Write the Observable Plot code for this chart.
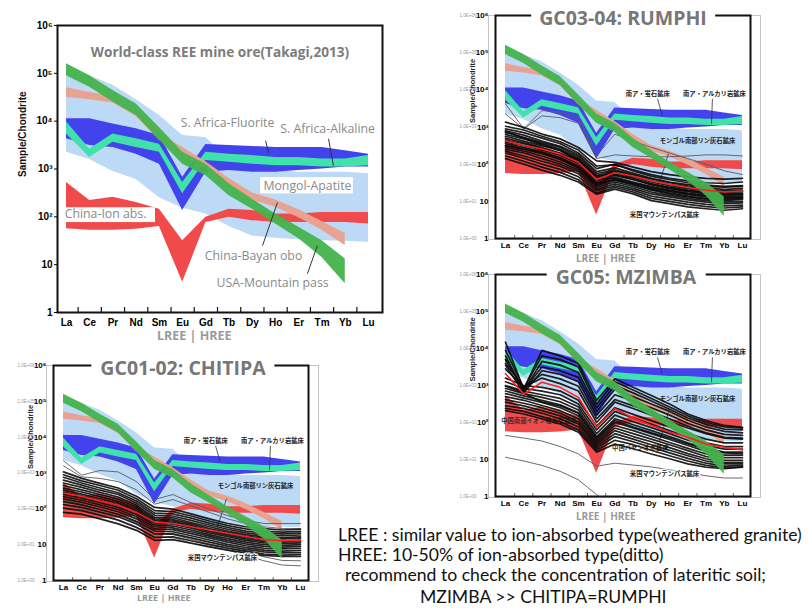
<!DOCTYPE html>
<html><head><meta charset="utf-8">
<script src="https://cdn.jsdelivr.net/npm/d3@7"></script>
<script src="https://cdn.jsdelivr.net/npm/@observablehq/plot@0.6"></script>
<style>
body{margin:0;background:#fff;width:810px;height:608px;overflow:hidden;position:relative;font-family:"Open Sans",sans-serif}
.p{position:absolute}
.title{position:absolute;background:#fff;color:#777;font-weight:700;font-size:19.5px;line-height:20px;white-space:nowrap;transform:translateX(-50%);font-family:"Open Sans";z-index:2;text-align:center}
.note{position:absolute;font-family:Lato;font-size:17.6px;line-height:20px;color:#111;white-space:nowrap}
</style></head><body>
<script>
// ---------- data ----------
const elements = ["La","Ce","Pr","Nd","Sm","Eu","Gd","Tb","Dy","Ho","Er","Tm","Yb","Lu"];
const yTicks = [1, 10, 100, 1e3, 1e4, 1e5, 1e6];

// reference ore bands (log10 of sample/chondrite), Takagi 2013
const mongolLo   = [3.35,3.20,2.95,2.78,2.40,2.18,2.06,1.80,1.60,1.55,1.52,1.50,1.49,1.47];
const mongolHi   = [5.10,4.95,4.75,4.45,4.12,3.70,3.66,3.20,3.00,2.97,2.93,2.93,2.93,2.90];
const ionLo      = [1.75,1.72,1.72,1.74,1.80,0.63,1.88,1.99,1.92,1.88,1.88,1.88,1.88,1.85];
const ionHi      = [2.72,2.34,2.41,2.30,2.16,1.50,1.99,2.16,2.13,2.06,2.06,2.09,2.09,2.09];
const fluoriteLo = [3.63,3.49,3.45,3.31,3.10,2.13,2.93,2.97,2.93,2.93,2.97,3.00,3.04,3.04];
const fluoriteHi = [4.05,4.05,3.94,3.84,3.70,2.83,3.51,3.49,3.47,3.45,3.45,3.45,3.38,3.31];
const alkalineLo = [3.73,3.24,3.56,3.45,3.35,2.48,3.18,3.14,3.10,3.07,3.07,3.04,3.04,3.07];
const alkalineHi = [3.98,3.42,3.73,3.63,3.52,2.72,3.35,3.31,3.28,3.24,3.24,3.21,3.21,3.28];
const bayanLo    = [4.50,4.45,4.38,4.10,3.60,3.30,3.00,2.65,2.35,2.20,1.98,1.72,1.40];
const bayanHi    = [4.70,4.60,4.52,4.25,3.75,3.45,3.15,2.80,2.50,2.35,2.15,1.90,1.65];
const mtnPassLo  = [4.95,4.71,4.40,4.12,3.60,3.10,2.86,2.44,2.16,1.85,1.54,1.15,0.60];
const mtnPassHi  = [5.20,4.95,4.64,4.36,3.87,3.35,3.10,2.69,2.37,2.06,1.78,1.50,1.12];

// GC03-04 RUMPHI samples (log10)
const rumphiGray = [
 [3.62,2.95,3.44,3.40,3.26,2.23,2.81,2.62,2.45,2.30,2.15,2.00,1.82,1.72],
 [3.35,2.95,3.30,3.25,3.10,2.15,2.25,2.22,2.20,2.20,2.22,2.25,2.25,2.22]
];
const rumphiSamples = [
 [3.13,2.99,2.81,2.68,2.45,2.09,2.05,1.92,1.80,1.72,1.66,1.62,1.60,1.62],
 [3.02,2.92,2.75,2.60,2.38,1.95,1.98,1.85,1.72,1.62,1.55,1.50,1.48,1.52],
 [2.95,2.85,2.70,2.55,2.30,1.88,2.00,1.82,1.68,1.58,1.50,1.44,1.40,1.42],
 [2.90,2.78,2.62,2.48,2.25,1.80,1.90,1.76,1.62,1.52,1.45,1.40,1.38,1.40],
 [2.85,2.72,2.58,2.45,2.20,1.75,1.85,1.72,1.60,1.50,1.42,1.36,1.32,1.35],
 [2.80,2.68,2.55,2.40,2.16,1.70,1.82,1.70,1.56,1.46,1.38,1.32,1.28,1.30],
 [2.75,2.62,2.50,2.36,2.12,1.66,1.78,1.66,1.52,1.42,1.34,1.28,1.24,1.26],
 [2.70,2.58,2.45,2.30,2.08,1.62,1.74,1.62,1.48,1.38,1.30,1.24,1.20,1.22],
 [2.65,2.55,2.42,2.28,2.05,1.60,1.62,1.50,1.38,1.28,1.20,1.15,1.10,1.12],
 [2.60,2.50,2.38,2.24,2.02,1.55,1.70,1.58,1.44,1.34,1.26,1.20,1.16,1.18],
 [2.55,2.45,2.33,2.18,1.96,1.50,1.65,1.52,1.40,1.30,1.22,1.16,1.12,1.15],
 [2.50,2.42,2.30,2.15,1.92,1.48,1.58,1.46,1.32,1.22,1.14,1.08,1.04,1.08],
 [2.50,2.40,2.28,2.12,1.90,1.45,1.60,1.48,1.35,1.26,1.18,1.12,1.08,1.10],
 [2.45,2.35,2.22,2.06,1.85,1.42,1.56,1.44,1.30,1.20,1.12,1.06,1.02,1.05],
 [2.40,2.30,2.15,2.00,1.80,1.38,1.52,1.40,1.25,1.16,1.08,1.02,0.98,1.00],
 [2.35,2.22,2.08,1.94,1.74,1.33,1.47,1.35,1.20,1.12,1.04,0.98,0.94,0.96],
 [2.30,2.16,2.00,1.86,1.66,1.28,1.42,1.30,1.14,1.06,0.98,0.92,0.88,0.90],
 [2.22,2.08,1.92,1.78,1.58,1.22,1.38,1.25,1.08,1.00,0.92,0.86,0.82,0.85],
 [2.15,2.00,1.84,1.70,1.52,1.19,1.33,1.20,1.02,0.94,0.85,0.80,0.76,0.80],
 [2.88,2.70,2.52,2.38,2.10,1.68,1.72,1.60,1.46,1.36,1.28,1.22,1.18,1.20]
];
const rumphiRed = [2.63,2.50,2.41,2.27,2.05,1.59,1.77,1.68,1.55,1.46,1.37,1.30,1.25,1.28];

// GC05 MZIMBA samples (log10)
const mzimbaGray = [
 [1.65,1.58,1.50,1.35,1.15,0.82,0.90,0.85,0.80,0.72,0.65,0.56,0.50,0.50],
 [1.06,0.96,0.84,0.68,0.45,0.05,-0.40,-0.60,-0.80,-1.00,-1.00,-1.00,-1.00,-1.00]
];
const mzimbaSamples = [
 [4.17,2.90,3.95,3.80,3.60,2.60,3.18,2.95,2.73,2.50,2.23,2.05,1.92,1.87],
 [3.95,2.92,3.80,3.70,3.50,2.50,3.10,2.88,2.65,2.42,2.18,2.00,1.88,1.85],
 [3.80,2.85,3.65,3.55,3.35,2.40,3.00,2.80,2.58,2.36,2.12,1.95,1.82,1.80],
 [3.70,2.88,3.50,3.40,3.22,2.30,2.90,2.70,2.50,2.30,2.06,1.88,1.76,1.72],
 [3.60,2.95,3.20,3.05,2.85,2.00,2.55,2.38,2.20,2.02,1.85,1.70,1.58,1.55],
 [3.55,2.80,3.40,3.30,3.10,2.20,2.75,2.58,2.40,2.20,1.98,1.80,1.68,1.65],
 [3.45,2.95,3.30,3.18,2.98,2.10,2.62,2.45,2.28,2.10,1.90,1.72,1.60,1.58],
 [3.20,3.00,2.95,2.85,2.60,1.90,2.40,2.22,2.05,1.88,1.70,1.55,1.45,1.45],
 [3.10,2.92,2.85,2.75,2.50,1.80,2.30,2.12,1.95,1.78,1.60,1.45,1.35,1.35],
 [3.00,2.85,2.75,2.65,2.42,1.70,2.20,2.02,1.86,1.70,1.52,1.38,1.28,1.28],
 [2.98,2.80,2.55,2.45,2.25,1.58,2.05,1.88,1.72,1.58,1.42,1.28,1.18,1.16],
 [2.92,2.78,2.68,2.56,2.34,1.62,2.10,1.94,1.78,1.62,1.45,1.30,1.20,1.20],
 [2.85,2.72,2.60,2.48,2.26,1.55,2.00,1.85,1.70,1.54,1.38,1.22,1.12,1.12],
 [2.78,2.66,2.54,2.40,2.18,1.50,1.92,1.78,1.62,1.46,1.30,1.15,1.05,1.05],
 [2.70,2.60,2.46,2.32,2.10,1.45,1.85,1.70,1.55,1.40,1.24,1.08,0.98,0.98],
 [2.62,2.52,2.40,2.25,2.02,1.40,1.78,1.62,1.48,1.32,1.16,1.02,0.92,0.92],
 [2.55,2.45,2.32,2.18,1.96,1.35,1.70,1.55,1.40,1.25,1.10,0.96,0.88,0.88],
 [2.45,2.38,2.25,2.10,1.88,1.30,1.62,1.48,1.33,1.18,1.03,0.90,0.82,0.84],
 [2.38,2.30,2.16,2.02,1.80,1.25,1.52,1.40,1.25,1.10,0.96,0.84,0.78,0.80],
 [2.32,2.23,2.10,1.96,1.74,1.20,1.42,1.29,1.15,1.02,0.88,0.79,0.75,0.79]
];
const mzimbaRed = [3.32,2.77,3.09,2.95,2.68,1.87,2.37,2.12,1.92,1.74,1.60,1.42,1.33,1.26];

// GC01-02 CHITIPA samples (log10)
const chitipaGray = [
 [3.34,2.94,3.07,3.03,2.76,2.26,2.40,2.17,1.99,1.81,1.68,1.59,1.59,1.59],
 [3.20,2.89,2.85,2.76,2.53,2.13,2.26,2.08,1.90,1.72,1.59,1.50,1.45,1.45],
 [2.10,2.00,1.85,1.70,1.50,1.22,1.20,1.05,0.95,0.85,0.70,0.55,0.43,0.41],
 [2.25,2.12,1.98,1.82,1.62,1.30,1.28,1.15,1.02,0.92,0.80,0.66,0.56,0.55]
];
const chitipaSamples = [
 [3.03,2.85,2.71,2.58,2.35,2.04,1.99,1.86,1.72,1.59,1.50,1.45,1.41,1.43],
 [2.95,2.78,2.65,2.52,2.28,1.95,1.92,1.80,1.66,1.53,1.44,1.38,1.35,1.37],
 [2.88,2.72,2.58,2.45,2.22,1.88,1.86,1.74,1.60,1.48,1.38,1.32,1.30,1.32],
 [2.80,2.66,2.52,2.40,2.16,1.82,1.80,1.68,1.55,1.43,1.33,1.27,1.25,1.27],
 [2.72,2.60,2.46,2.33,2.10,1.76,1.75,1.62,1.50,1.38,1.28,1.22,1.20,1.22],
 [2.65,2.53,2.40,2.27,2.05,1.72,1.70,1.58,1.45,1.34,1.24,1.18,1.16,1.18],
 [2.58,2.47,2.34,2.21,2.00,1.68,1.66,1.54,1.41,1.30,1.20,1.13,1.11,1.13],
 [2.52,2.41,2.28,2.16,1.95,1.64,1.62,1.50,1.37,1.26,1.16,1.09,1.07,1.09],
 [2.46,2.36,2.22,2.10,1.90,1.60,1.57,1.46,1.33,1.22,1.12,1.05,1.03,1.05],
 [2.40,2.30,2.17,2.04,1.84,1.55,1.52,1.41,1.28,1.17,1.07,1.00,0.98,1.00],
 [2.34,2.24,2.11,1.98,1.78,1.50,1.47,1.36,1.24,1.12,1.02,0.95,0.93,0.95],
 [2.28,2.18,2.05,1.92,1.72,1.44,1.42,1.31,1.19,1.07,0.97,0.90,0.88,0.90],
 [2.20,2.11,1.98,1.85,1.65,1.38,1.36,1.25,1.13,1.01,0.92,0.85,0.82,0.84],
 [2.12,2.04,1.91,1.78,1.58,1.30,1.30,1.19,1.07,0.96,0.87,0.80,0.77,0.78],
 [2.02,1.95,1.82,1.68,1.48,1.20,1.22,1.11,1.00,0.90,0.82,0.74,0.71,0.72],
 [1.90,1.85,1.72,1.58,1.40,1.12,1.14,1.04,0.94,0.85,0.77,0.70,0.67,0.67]
];
const chitipaRed = [2.44,2.35,2.22,2.10,1.90,1.63,1.59,1.50,1.41,1.32,1.23,1.14,1.11,1.11];

// ---------- annotations ----------
const mainLabels = [
 {text:"S. Africa-Fluorite", x:6.93, y:3.97},
 {text:"S. Africa-Alkaline", x:11.24, y:3.84},
 {text:"China-Bayan obo", x:8.05, y:1.19},
 {text:"USA-Mountain pass", x:8.87, y:0.61}
];
const mainBoxLabels = [
 {text:"Mongol-Apatite", x:10.37, y:2.65, x1:8.35, x2:12.35, y1:2.48, y2:2.82},
 {text:"China-Ion abs.", x:1.68, y:2.05, x1:-0.13, x2:3.83, y1:1.88, y2:2.19}
];
const mainLeaders = [
 {x1:8.57,y1:3.59,x2:8.70,y2:3.34},
 {x1:11.28,y1:3.63,x2:11.49,y2:3.07},
 {x1:9.08,y1:2.30,x2:8.44,y2:1.40},
 {x1:10.80,y1:1.40,x2:10.37,y2:0.81}
];
const jpLabels = [
 {text:"南ア・蛍石鉱床", x:7.8, y:3.9},
 {text:"南ア・アルカリ岩鉱床", x:11.46, y:3.9},
 {text:"モンゴル南部リン灰石鉱床", x:10.53, y:2.63}
];
const jpMtn = [{text:"米国マウンテンパス鉱床", x:8.72, y:0.62}];
const jpHidden = [
 {text:"中国南部イオン吸着型鉱床", x:1.84, y:2.05},
 {text:"中国バヤンオボ鉱床", x:7.4, y:1.3}
];
const smallLeaders = [
 {x1:8.34,y1:3.76,x2:8.6,y2:3.3},
 {x1:11.35,y1:3.76,x2:11.3,y2:3.09},
 {x1:8.94,y1:2.28,x2:8.45,y2:1.5}
];

// ---------- helpers ----------
const pow = v => 10 ** v;
const bandRows = (lo, hi) => lo.map((l, i) => ({i, lo: pow(l), hi: pow(hi[i])}));
const lineRows = (arrs, tag) => arrs.flatMap((a, k) => a.map((v, i) => ({i, v: pow(v), id: tag + k})));
const sup = ["⁰","¹","²","³","⁴","⁵","⁶"];
const lg = d => Math.round(Math.log10(d));
const tickText = d => d === 1 ? "1" : d === 10 ? "10" : "10" + sup[lg(d)];
const eText = d => "1.0E+0" + lg(d);
const idx = elements.map((_, i) => i);
const mids = idx.slice(1).map(i => i - 0.5);
const lreePos = (elements.indexOf("Eu") + elements.indexOf("Gd")) / 2;

const bandDefs = [
 {lo: mongolLo, hi: mongolHi, fill: "#bcdaf5"},
 {lo: ionLo, hi: ionHi, fill: "#f04a4a"},
 {lo: fluoriteLo, hi: fluoriteHi, fill: "#4343ee"},
 {lo: alkalineLo, hi: alkalineHi, fill: "#3fe2aa"},
 {lo: bayanLo, hi: bayanHi, fill: "#e9a291"}
];
const bandMarks = () => bandDefs.map(b => Plot.areaY(bandRows(b.lo, b.hi), {x: "i", y1: "lo", y2: "hi", fill: b.fill}));
const greenMark = () => Plot.areaY(bandRows(mtnPassLo, mtnPassHi), {x: "i", y1: "lo", y2: "hi", fill: "#45b34c", fillOpacity: 0.95});

function place(el, left, top) {
  el.classList.add("p");
  el.style.left = left + "px";
  el.style.top = top + "px";
  document.body.appendChild(el);
}

// ---------- main panel ----------
const mainH = 287;
const main = Plot.plot({
  width: 400, height: 345,
  marginLeft: 57, marginRight: 18, marginTop: 25, marginBottom: 33,
  x: {type: "linear", domain: [0, 13], range: [66, 368]},
  y: {type: "log", domain: [1, 1e6]},
  style: {background: "transparent", fontFamily: "Liberation Sans, Arial, sans-serif"},
  marks: [
    ...bandMarks(),
    greenMark(),
    Plot.rect(mainBoxLabels, {x1: "x1", x2: "x2", y1: d => pow(d.y1), y2: d => pow(d.y2), fill: "white"}),
    Plot.text(mainBoxLabels, {x: "x", y: d => pow(d.y), text: "text", fill: "#8a8a8a", fontSize: 12.3, fontFamily: "Open Sans"}),
    Plot.text(mainLabels, {x: "x", y: d => pow(d.y), text: "text", fill: "#8a8a8a", fontSize: 12.3, fontFamily: "Open Sans"}),
    Plot.link(mainLeaders, {x1: "x1", y1: d => pow(d.y1), x2: "x2", y2: d => pow(d.y2), stroke: "#333", strokeWidth: 1}),
    Plot.text(["World-class REE mine ore(Takagi,2013)"], {frameAnchor: "top", dy: 22, fontSize: 13.6, fontWeight: "bold", fill: "#7c7c7c", fontFamily: "Open Sans"}),
    Plot.ruleX(mids, {x: d => d, insetTop: mainH - 5, stroke: "#111", strokeWidth: 1.2}),
    Plot.frame({stroke: "#111", strokeWidth: 2}),
    Plot.axisY({ticks: yTicks, tickFormat: tickText, tickSize: 3, tickPadding: 2, fontSize: 10, fontWeight: "bold", label: null}),
    Plot.axisX({ticks: idx, tickFormat: i => elements[i], tickSize: 0, tickPadding: 6, fontSize: 10, fontWeight: "bold", label: null}),
    Plot.text(["Sample/Chondrite"], {frameAnchor: "left", rotate: -90, dx: -35, dy: 8, fontSize: 10, fontWeight: "bold", fill: "#111"}),
    Plot.text(["LREE | HREE"], {x: lreePos, frameAnchor: "bottom", dy: 27.5, fontSize: 12.5, fontWeight: "bold", fill: "#9a9a9a", fontFamily: "Open Sans"})
  ]
});
place(main, 0, 0);

// ---------- small panels ----------
function small({samples, gray, red, plotH, labelPad, lreeDy, lreeSize, hidden}) {
  const mb = 32;
  return Plot.plot({
    width: 330, height: 15 + plotH + mb,
    marginLeft: 55, marginRight: 20, marginTop: 15, marginBottom: mb,
    x: {type: "linear", domain: [0, 13], range: [65, 302]},
    y: {type: "log", domain: [1, 1e6]},
    style: {background: "transparent", fontFamily: "Liberation Sans, Arial, sans-serif"},
    marks: [
      Plot.frame({stroke: "#c4c4c4", strokeWidth: 1, insetLeft: -7, insetRight: -10, insetBottom: -1}),
      ...bandMarks(),
      Plot.text(jpLabels, {x: "x", y: d => pow(d.y), text: "text", fontSize: 6.3, fontWeight: "bold", fill: "#222", fontFamily: "Noto Sans CJK JP"}),
      hidden ? Plot.text(jpHidden, {x: "x", y: d => pow(d.y), text: "text", fontSize: 6.3, fontWeight: "bold", fill: "#333", fontFamily: "Noto Sans CJK JP"}) : null,
      Plot.link(smallLeaders, {x1: "x1", y1: d => pow(d.y1), x2: "x2", y2: d => pow(d.y2), stroke: "#333", strokeWidth: 0.8}),
      Plot.line(lineRows(gray, "g"), {x: "i", y: "v", z: "id", stroke: "#5a5a5a", strokeWidth: 0.9, clip: true}),
      Plot.line(lineRows(samples, "s"), {x: "i", y: "v", z: "id", stroke: "#0a0a0a", strokeWidth: 1.7, strokeOpacity: 0.9}),
      greenMark(),
      Plot.line(lineRows([red], "r"), {x: "i", y: "v", z: "id", stroke: "#ff1f1f", strokeWidth: 1.6}),
      Plot.text(jpMtn, {x: "x", y: d => pow(d.y), text: "text", fontSize: 6.3, fontWeight: "bold", fill: "#222", fontFamily: "Noto Sans CJK JP", stroke: "white", strokeWidth: 3, strokeOpacity: 0.8}),
      Plot.ruleX(mids, {x: d => d, insetTop: plotH - 3, stroke: "#444", strokeWidth: 0.8}),
      Plot.frame({stroke: "#111", strokeWidth: 2}),
      Plot.axisY({ticks: yTicks, tickFormat: tickText, tickSize: 0, tickPadding: 7, fontSize: 8, fontWeight: "bold", label: null}),
      Plot.text(yTicks, {y: d => d, text: eText, frameAnchor: "left", dx: -19, textAnchor: "end", fontSize: 4.5, fill: "#9a9a9a"}),
      Plot.axisX({ticks: idx, tickFormat: i => elements[i], tickSize: 0, tickPadding: labelPad, fontSize: 8, fontWeight: "bold", label: null}),
      Plot.text(["Sample/Chondrite"], {frameAnchor: "left", rotate: -90, dx: -23, dy: -4, fontSize: 7.5, fontWeight: "bold", fill: "#222"}),
      Plot.text(["LREE | HREE"], {x: lreePos, frameAnchor: "bottom", dy: lreeDy, fontSize: lreeSize, fontWeight: "bold", fill: "#9a9a9a", fontFamily: "Open Sans"})
    ].filter(Boolean)
  });
}

place(small({samples: rumphiSamples, gray: rumphiGray, red: rumphiRed, plotH: 223, labelPad: 4, lreeDy: 23, lreeSize: 10}), 440, 0);
place(small({samples: mzimbaSamples, gray: mzimbaGray, red: mzimbaRed, plotH: 222, labelPad: 4, lreeDy: 23, lreeSize: 10, hidden: true}), 440, 259);
place(small({samples: chitipaSamples, gray: chitipaGray, red: chitipaRed, plotH: 215, labelPad: 4, lreeDy: 20.5, lreeSize: 9}), -2, 350);

// ---------- titles ----------
const titles = [
  {text: "GC03-04: RUMPHI", x: 623, y: 8, pad: 8},
  {text: "GC05: MZIMBA", x: 626, y: 267, pad: 9},
  {text: "GC01-02: CHITIPA", x: 183, y: 358, pad: 9}
];
titles.forEach(t => {
  const d = document.createElement("div");
  d.className = "title";
  d.textContent = t.text;
  d.style.left = t.x + "px"; d.style.top = t.y + "px";
  d.style.padding = "0 " + t.pad + "px";
  document.body.appendChild(d);
});

// ---------- notes ----------
const notes = [
  {text: "LREE : similar value to ion-absorbed type(weathered granite)", x: 338, y: 525},
  {text: "HREE: 10-50% of ion-absorbed type(ditto)", x: 338, y: 545},
  {text: "recommend to check the concentration of  lateritic soil;", x: 345, y: 565},
  {text: "MZIMBA >> CHITIPA=RUMPHI", x: 420, y: 587}
];
notes.forEach(n => {
  const d = document.createElement("div");
  d.className = "note";
  d.textContent = n.text;
  d.style.left = n.x + "px"; d.style.top = n.y + "px";
  document.body.appendChild(d);
});
</script>
</body></html>
